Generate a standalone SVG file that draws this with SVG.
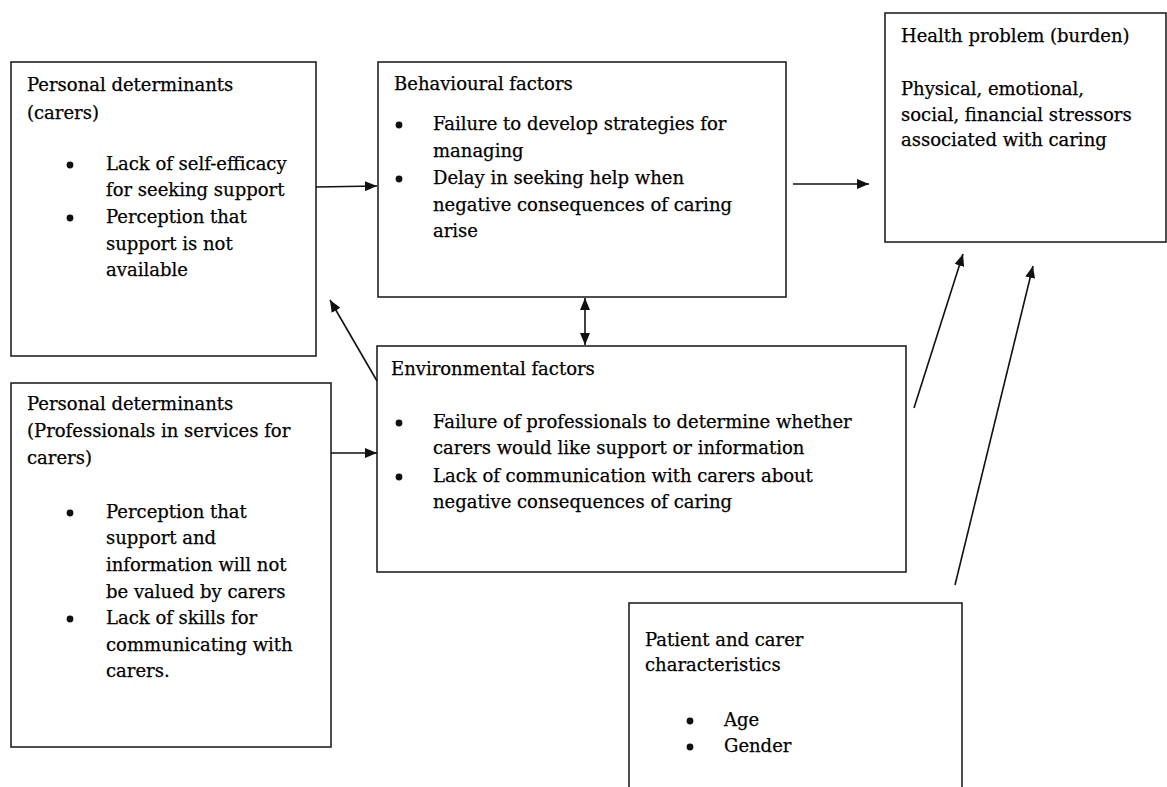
<svg xmlns="http://www.w3.org/2000/svg" width="1167" height="787" viewBox="0 0 1167 787">
  <style>
    .box { fill: #fff; stroke: #222; stroke-width: 1.6; }
    .t { font-family: "DejaVu Serif", "Liberation Serif", serif; font-size: 18px; fill: #000; stroke: #000; stroke-width: 0.25; }
    .conn { stroke: #111; stroke-width: 1.6; fill: none; }
  </style>
  <defs>
    <marker id="ah" viewBox="0 0 12 10" refX="12" refY="5" markerWidth="12" markerHeight="10" markerUnits="userSpaceOnUse" orient="auto-start-reverse">
      <path d="M0,0 L12,5 L0,10 z" fill="#111"/>
    </marker>
    <circle id="dot" r="3.4" fill="#111"/>
  </defs>
  <rect width="1167" height="787" fill="#fff"/>

  <g id="personal-carers">
    <rect class="box" x="11" y="62" width="305" height="294"/>
    <text class="t" x="27" y="91">Personal determinants</text>
    <text class="t" x="27" y="119">(carers)</text>
    <use href="#dot" x="70" y="165"/>
    <text class="t" x="106" y="170">Lack of self-efficacy</text>
    <text class="t" x="106" y="196">for seeking support</text>
    <use href="#dot" x="70" y="218"/>
    <text class="t" x="106" y="223">Perception that</text>
    <text class="t" x="106" y="250">support is not</text>
    <text class="t" x="106" y="276">available</text>
  </g>

  <g id="behavioural">
    <rect class="box" x="378" y="62" width="408" height="235"/>
    <text class="t" x="394" y="90">Behavioural factors</text>
    <use href="#dot" x="399" y="125"/>
    <text class="t" x="433" y="130">Failure to develop strategies for</text>
    <text class="t" x="433" y="157">managing</text>
    <use href="#dot" x="399" y="179"/>
    <text class="t" x="433" y="184">Delay in seeking help when</text>
    <text class="t" x="433" y="211">negative consequences of caring</text>
    <text class="t" x="433" y="237">arise</text>
  </g>

  <g id="health-problem">
    <rect class="box" x="885" y="13" width="281" height="229"/>
    <text class="t" x="901" y="42">Health problem (burden)</text>
    <text class="t" x="901" y="95">Physical, emotional,</text>
    <text class="t" x="901" y="121">social, financial stressors</text>
    <text class="t" x="901" y="146">associated with caring</text>
  </g>

  <g id="personal-professionals">
    <rect class="box" x="11" y="383" width="320" height="364"/>
    <text class="t" x="27" y="410">Personal determinants</text>
    <text class="t" x="27" y="437">(Professionals in services for</text>
    <text class="t" x="27" y="464">carers)</text>
    <use href="#dot" x="70" y="513"/>
    <text class="t" x="106" y="518">Perception that</text>
    <text class="t" x="106" y="544">support and</text>
    <text class="t" x="106" y="571">information will not</text>
    <text class="t" x="106" y="598">be valued by carers</text>
    <use href="#dot" x="70" y="619"/>
    <text class="t" x="106" y="624">Lack of skills for</text>
    <text class="t" x="106" y="651">communicating with</text>
    <text class="t" x="106" y="677">carers.</text>
  </g>

  <g id="environmental">
    <rect class="box" x="377" y="346" width="529" height="226"/>
    <text class="t" x="391" y="375">Environmental factors</text>
    <use href="#dot" x="399" y="423"/>
    <text class="t" x="433" y="428">Failure of professionals to determine whether</text>
    <text class="t" x="433" y="454">carers would like support or information</text>
    <use href="#dot" x="399" y="477"/>
    <text class="t" x="433" y="482">Lack of communication with carers about</text>
    <text class="t" x="433" y="508">negative consequences of caring</text>
  </g>

  <g id="patient-carer">
    <rect class="box" x="629" y="603" width="333" height="200"/>
    <text class="t" x="645" y="646">Patient and carer</text>
    <text class="t" x="645" y="671">characteristics</text>
    <use href="#dot" x="690" y="721"/>
    <text class="t" x="724" y="726">Age</text>
    <use href="#dot" x="690" y="747"/>
    <text class="t" x="724" y="752">Gender</text>
  </g>

  <g id="connectors">
    <line class="conn" x1="316" y1="187" x2="377" y2="186" marker-end="url(#ah)"/>
    <line class="conn" x1="793" y1="184" x2="869" y2="184" marker-end="url(#ah)"/>
    <line class="conn" x1="585" y1="298" x2="585" y2="345" marker-start="url(#ah)" marker-end="url(#ah)"/>
    <line class="conn" x1="377" y1="381" x2="330" y2="300" marker-end="url(#ah)"/>
    <line class="conn" x1="331" y1="453" x2="377" y2="453" marker-end="url(#ah)"/>
    <line class="conn" x1="914" y1="408" x2="963" y2="254" marker-end="url(#ah)"/>
    <line class="conn" x1="955" y1="585" x2="1033" y2="266" marker-end="url(#ah)"/>
  </g>
</svg>
